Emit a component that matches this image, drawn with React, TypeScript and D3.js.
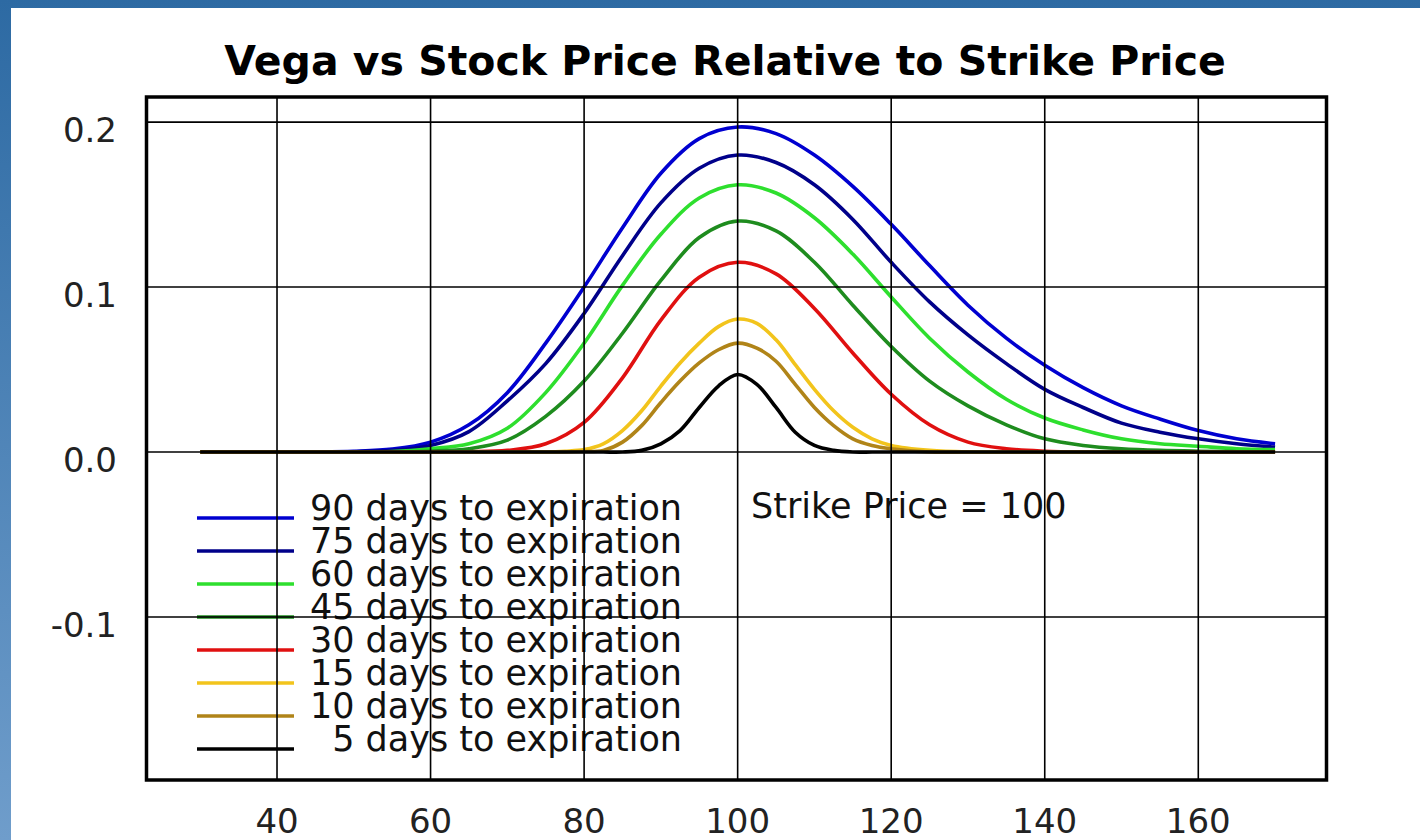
import React from "react";
import * as d3 from "d3";

const WIDTH = 1420;
const HEIGHT = 840;

const title = "Vega vs Stock Price Relative to Strike Price";
const strikeNote = "Strike Price = 100";

const xTicks = [40, 60, 80, 100, 120, 140, 160];
const yTicks = [-0.1, 0.0, 0.1, 0.2];
const yTickLabels = ["-0.1", "0.0", "0.1", "0.2"];

// stock prices used for the longer dated curves
const pricesWide = [
  30, 35, 40, 45, 50, 55, 60, 65, 70, 75, 80, 85, 90, 95, 100, 105, 110, 115,
  120, 125, 130, 135, 140, 145, 150, 155, 160, 165, 170,
];

// finer sampling around the strike for the short dated curves
const pricesNarrow = [
  30, 50, 70, 75, 77.5, 80, 82.5, 85, 87.5, 90, 92.5, 95, 97.5, 100, 102.5, 105,
  107.5, 110, 112.5, 115, 117.5, 120, 125, 130, 150, 170,
];

const vega90 = [
  0, 0, 0, 0.0001, 0.0005, 0.0018, 0.006, 0.0165, 0.036, 0.066, 0.1, 0.136,
  0.169, 0.19, 0.197, 0.193, 0.18, 0.161, 0.138, 0.113, 0.089, 0.069, 0.0526,
  0.039, 0.028, 0.02, 0.013, 0.008, 0.005,
];
const vega75 = [
  0, 0, 0, 0, 0.0002, 0.001, 0.004, 0.0124, 0.031, 0.0536, 0.084, 0.119, 0.151,
  0.172, 0.18, 0.1755, 0.162, 0.141, 0.115, 0.091, 0.071, 0.0536, 0.038, 0.027,
  0.0175, 0.012, 0.008, 0.005, 0.003,
];
const vega60 = [
  0, 0, 0, 0, 0, 0.0003, 0.002, 0.005, 0.0144, 0.036, 0.066, 0.101, 0.132,
  0.154, 0.162, 0.157, 0.142, 0.12, 0.094, 0.069, 0.0485, 0.032, 0.0206,
  0.0134, 0.008, 0.005, 0.0035, 0.002, 0.0015,
];
const vega45 = [
  0, 0, 0, 0, 0, 0, 0.0005, 0.002, 0.0072, 0.0216, 0.043, 0.072, 0.104, 0.13,
  0.14, 0.134, 0.115, 0.089, 0.064, 0.043, 0.028, 0.0165, 0.008, 0.004, 0.002,
  0.001, 0.0005, 0.0002, 0,
];
const vega30 = [
  0, 0, 0, 0, 0, 0, 0, 0.0002, 0.001, 0.005, 0.018, 0.045, 0.08, 0.106, 0.115,
  0.108, 0.087, 0.06, 0.035, 0.0165, 0.006, 0.002, 0.0005, 0, 0, 0, 0, 0, 0,
];
const vega15 = [
  0, 0, 0, 0, 0.0005, 0.0015, 0.005, 0.013, 0.025, 0.04, 0.054, 0.066, 0.076,
  0.0806, 0.078, 0.068, 0.053, 0.038, 0.025, 0.015, 0.008, 0.004, 0.001, 0, 0,
  0,
];
const vega10 = [
  0, 0, 0, 0, 0, 0.0003, 0.001, 0.006, 0.016, 0.03, 0.043, 0.054, 0.062,
  0.066, 0.063, 0.055, 0.041, 0.027, 0.016, 0.008, 0.004, 0.002, 0, 0, 0, 0,
];
const vega5 = [
  0, 0, 0, 0, 0, 0, 0, 0, 0.001, 0.005, 0.013, 0.027, 0.04, 0.047, 0.041,
  0.027, 0.012, 0.004, 0.001, 0, 0, 0, 0, 0, 0, 0,
];

const seriesLabels = [
  "90 days to expiration",
  "75 days to expiration",
  "60 days to expiration",
  "45 days to expiration",
  "30 days to expiration",
  "15 days to expiration",
  "10 days to expiration",
  "5 days to expiration",
];
const seriesColors = [
  "#0000d0",
  "#00008a",
  "#2edf2e",
  "#1e8c1e",
  "#e01010",
  "#f2c41c",
  "#b08418",
  "#000000",
];
const seriesPrices = [
  pricesWide,
  pricesWide,
  pricesWide,
  pricesWide,
  pricesWide,
  pricesNarrow,
  pricesNarrow,
  pricesNarrow,
];
const seriesValues = [vega90, vega75, vega60, vega45, vega30, vega15, vega10, vega5];

const FONT = "'DejaVu Sans', Verdana, sans-serif";

export default function App() {
  const x = d3.scaleLinear().domain([23, 176.7]).range([146.5, 1326.5]);
  const y = d3.scaleLinear().domain([-0.1988, 0.2152]).range([780, 97]);

  // catmull-rom keeps the bells smooth; clamp so the tails never dip under 0
  const line = d3
    .line<[number, number]>()
    .x((d) => x(d[0]))
    .y((d) => Math.min(y(d[1]), y(0)))
    .curve(d3.curveCatmullRom.alpha(0.5));

  const [x0, x1] = x.range();
  const [yBottom, yTop] = y.range();

  const series = seriesLabels.map((label, i) => ({
    label,
    color: seriesColors[i],
    points: seriesPrices[i].map((p, j) => [p, seriesValues[i][j]] as [number, number]),
  }));

  const legendX0 = 197;
  const legendX1 = 294;
  const legendTextRight = 682;
  const legendTop = 518;
  const legendStep = 33;

  return (
    <div style={{ position: "absolute", left: 0, top: 0 }}>
      <svg width={WIDTH} height={HEIGHT} style={{ display: "block" }}>
        <defs>
          <linearGradient id="bg" x1="0" y1="0" x2="0" y2="1">
            <stop offset="0" stopColor="#2d6aa3" />
            <stop offset="1" stopColor="#6f9dcb" />
          </linearGradient>
          <clipPath id="plot">
            <rect x={x0} y={yTop} width={x1 - x0} height={yBottom - yTop} />
          </clipPath>
        </defs>
        <rect x={0} y={0} width={WIDTH} height={HEIGHT} fill="url(#bg)" />
        <rect x={11} y={8} width={WIDTH - 11} height={HEIGHT - 8} fill="#ffffff" />

        <text
          x={725}
          y={75}
          textAnchor="middle"
          fontFamily={FONT}
          fontWeight="bold"
          fontSize={41}
          fill="#000"
        >
          {title}
        </text>

        {/* curves */}
        <g fill="none" strokeWidth={3.6} strokeLinejoin="round" clipPath="url(#plot)">
          {series.map((s) => (
            <path key={s.label} d={line(s.points) || ""} stroke={s.color} />
          ))}
        </g>

        {/* legend */}
        <g fontFamily={FONT} fontSize={35} fill="#111">
          {series.map((s, i) => {
            const ly = legendTop + i * legendStep;
            return (
              <g key={s.label}>
                <line
                  x1={legendX0}
                  x2={legendX1}
                  y1={ly}
                  y2={ly}
                  stroke={s.color}
                  strokeWidth={3.6}
                />
                <text x={legendTextRight} y={ly + 2} textAnchor="end">
                  {s.label}
                </text>
              </g>
            );
          })}
        </g>

        <text x={751} y={518} fontFamily={FONT} fontSize={35} fill="#111">
          {strikeNote}
        </text>

        {/* grid, drawn over the curves like the original */}
        <g stroke="#000" strokeWidth={1.6}>
          {xTicks.map((t) => (
            <line key={"gx" + t} x1={x(t)} x2={x(t)} y1={yTop} y2={yBottom} />
          ))}
          {yTicks.map((t) => (
            <line key={"gy" + t} x1={x0} x2={x1} y1={y(t)} y2={y(t)} />
          ))}
        </g>

        {/* frame */}
        <rect
          x={x0}
          y={yTop}
          width={x1 - x0}
          height={yBottom - yTop}
          fill="none"
          stroke="#000"
          strokeWidth={3.5}
        />

        {/* tick labels */}
        <g fontFamily={FONT} fontSize={34} fill="#222">
          {xTicks.map((t) => (
            <text key={"tx" + t} x={x(t)} y={833} textAnchor="middle">
              {t}
            </text>
          ))}
          {yTicks.map((t, i) => (
            <text key={"ty" + t} x={117} y={y(t) + 20} textAnchor="end">
              {yTickLabels[i]}
            </text>
          ))}
        </g>
      </svg>
    </div>
  );
}
